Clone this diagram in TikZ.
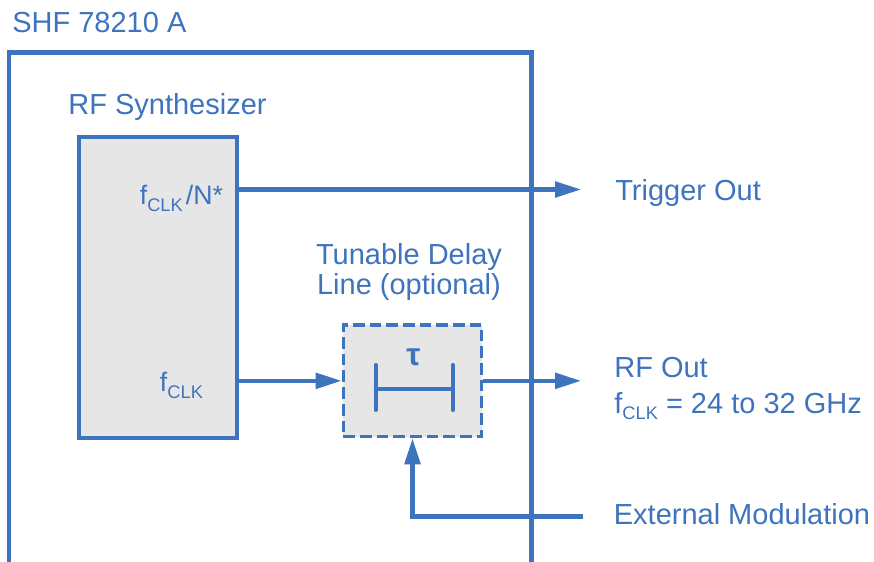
\documentclass[tikz,border=0pt]{standalone}
\usepackage{fontspec}
\setmainfont{Liberation Sans}
\usetikzlibrary{arrows.meta}
\definecolor{shfblue}{RGB}{62,115,190}
\definecolor{boxgray}{RGB}{230,230,230}
\newcommand{\clk}{\raisebox{-0.13cm}{\fontsize{10.4}{12}\selectfont CLK}}

\begin{document}
\begin{tikzpicture}[
    lbl/.style={text=shfblue,font=\fontsize{16.5}{20}\selectfont,inner sep=0pt},
    inlbl/.style={text=shfblue,font=\fontsize{15.2}{18}\selectfont,inner sep=0pt},
    sig/.style={draw=shfblue,line width=2.3pt,-{Triangle[length=0.52cm,width=0.31cm]}}
  ]
  \useasboundingbox (0,0) rectangle (17.48,-11.24);
  % instrument frame
  \node[lbl,anchor=base west] (title) at (0.24,-0.646) {SHF 78210 A};
  \draw[shfblue,line width=2.5pt] (0.184,-11.5) |- (10.63,-1.05) -- (10.63,-11.5);
  % synthesizer
  \node[lbl,anchor=base] (synthlbl) at (3.35,-2.286) {RF Synthesizer};
  \node[draw=shfblue,fill=boxgray,line width=1.9pt,minimum width=3.16cm,minimum height=6.02cm] (synth) at (3.16,-5.75) {};
  \node[inlbl,anchor=base east] (divout) at (4.466,-4.1) {f\clk\hspace{0.06cm}/N*};
  \node[inlbl,anchor=base east] (clkout) at (4.066,-7.84) {f\clk};
  % delay line
  \node[lbl,anchor=base] (dlab1) at (8.18,-5.3) {Tunable Delay};
  \node[lbl,anchor=base] (dlab2) at (8.18,-5.9) {Line (optional)};
  \node[draw=shfblue,fill=boxgray,line width=1.9pt,dash pattern=on 0.234cm off 0.1cm,minimum width=2.77cm,minimum height=2.234cm] (delay) at (8.25,-7.617) {};
  \node[text=shfblue,inner sep=0pt,font=\fontsize{18}{20}\selectfont\bfseries] (tau) at (8.27,-7.15) {τ};
  \draw[shfblue,line width=2.3pt,line cap=round] (7.514,-7.3) -- (7.514,-8.2) (7.514,-7.78) -- (9.054,-7.78) (9.054,-7.3) -- (9.054,-8.2);
  % outputs and inputs
  \coordinate (trig) at (11.62,-3.79);
  \coordinate (rfout) at (11.62,-7.617);
  \coordinate (extmod) at (11.66,-10.33);
  \draw[sig] (synth.east |- trig) -- (trig);
  \draw[sig] (synth.east |- delay.west) -- (delay.west);
  \draw[sig] (delay.east) -- (rfout);
  \draw[sig] (extmod) -| (delay.south);
  \node[lbl,anchor=base west] (trigtext) at (12.3,-4.014) {Trigger Out};
  \node[lbl,anchor=base west] (rftext) at (12.28,-7.546) {RF Out};
  \node[lbl,anchor=base west] (freqtext) at (12.28,-8.266) {f\clk{} = 24 to 32 GHz};
  \node[lbl,anchor=base west] (modtext) at (12.27,-10.5) {External Modulation};
\end{tikzpicture}
\end{document}
